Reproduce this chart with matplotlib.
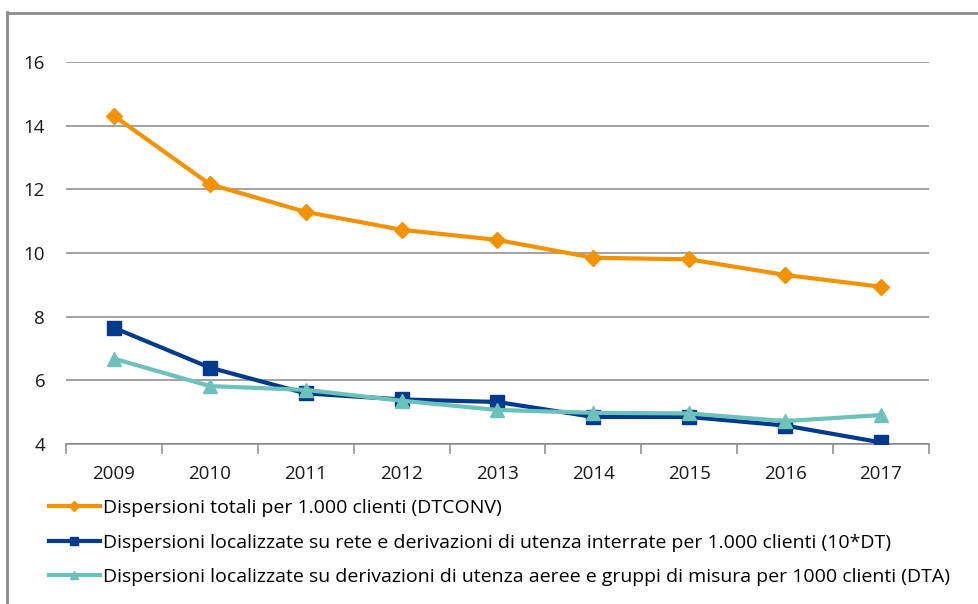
import matplotlib.pyplot as plt
from matplotlib.lines import Line2D


YEARS = ["2009", "2010", "2011", "2012", "2013", "2014", "2015", "2016", "2017"]

DTCONV = [14.31, 12.16, 11.29, 10.73, 10.41, 9.85, 9.80, 9.31, 8.94]
DT_X10 = [7.65, 6.40, 5.59, 5.40, 5.32, 4.85, 4.85, 4.58, 4.05]
DTA = [6.68, 5.82, 5.70, 5.36, 5.07, 4.98, 4.96, 4.72, 4.91]

LABELS = [
    "Dispersioni totali per 1.000 clienti (DTCONV)",
    "Dispersioni localizzate su rete e derivazioni di utenza interrate per 1.000 clienti (10*DT)",
    "Dispersioni localizzate su derivazioni di utenza aeree e gruppi di misura per 1000 clienti (DTA)",
]

Y_TICKS = [4, 6, 8, 10, 12, 14, 16]

ORANGE = "#F39200"
NAVY = "#003A8C"
TEAL = "#6CC2B9"
GRID = "#878787"
TEXT = "#1a1a1a"

W, H = 979, 604


def main():
    plt.rcParams["font.family"] = ["Open Sans", "DejaVu Sans"]

    fig = plt.figure(figsize=(W / 100, H / 100), dpi=100)
    ax = fig.add_axes([
        66 / W,
        1 - 444 / H,
        (929 - 66) / W,
        (444 - 62) / H,
    ])

    x = list(range(len(YEARS)))

    ax.plot(x, DTCONV, color=ORANGE, linewidth=3, marker="D",
            markersize=8.5, label=LABELS[0], zorder=3)
    ax.plot(x, DT_X10, color=NAVY, linewidth=3, marker="s",
            markersize=9.5, label=LABELS[1], zorder=3)
    ax.plot(x, DTA, color=TEAL, linewidth=3, marker="^",
            markersize=10, label=LABELS[2], zorder=4)

    ax.set_xlim(-0.5, len(YEARS) - 0.5)
    ax.set_ylim(4, 16)

    ax.set_yticks(Y_TICKS)
    ax.set_yticklabels([str(v) for v in Y_TICKS])
    ax.yaxis.grid(True, color=GRID, linewidth=1.1)
    ax.set_axisbelow(True)

    ax.set_xticks(x)
    ax.set_xticklabels(YEARS)
    ax.set_xticks([i - 0.5 for i in range(len(YEARS) + 1)], minor=True)

    ax.tick_params(axis="x", which="major", length=0, pad=15,
                   labelsize=13.5, labelcolor=TEXT)
    ax.tick_params(axis="x", which="minor", length=7, width=1.1,
                   color=GRID, direction="out")
    ax.tick_params(axis="y", length=0, pad=15, labelsize=13.5,
                   labelcolor=TEXT)

    for side in ["top", "right", "left"]:
        ax.spines[side].set_visible(False)
    ax.spines["bottom"].set_color(GRID)
    ax.spines["bottom"].set_linewidth(1.1)

    handles, labels = ax.get_legend_handles_labels()
    fig.legend(
        handles,
        labels,
        loc="upper left",
        bbox_to_anchor=(49 / W, 1 - 499 / H),
        frameon=False,
        fontsize=14,
        handlelength=2.62,
        handletextpad=0.16,
        labelspacing=0.85,
        markerscale=0.6,
        borderpad=0,
        borderaxespad=0,
    )

    # chart area border (left and top edges visible in the crop)
    fig.add_artist(Line2D([7.5 / W, 7.5 / W], [0, 1 - 12 / H],
                          color="#8c8c8c", linewidth=2))
    fig.add_artist(Line2D([7 / W, 1], [1 - 12.5 / H, 1 - 12.5 / H],
                          color="#8c8c8c", linewidth=2))

    fig.savefig("out.png", dpi=100)
    plt.close(fig)


if __name__ == "__main__":
    main()
